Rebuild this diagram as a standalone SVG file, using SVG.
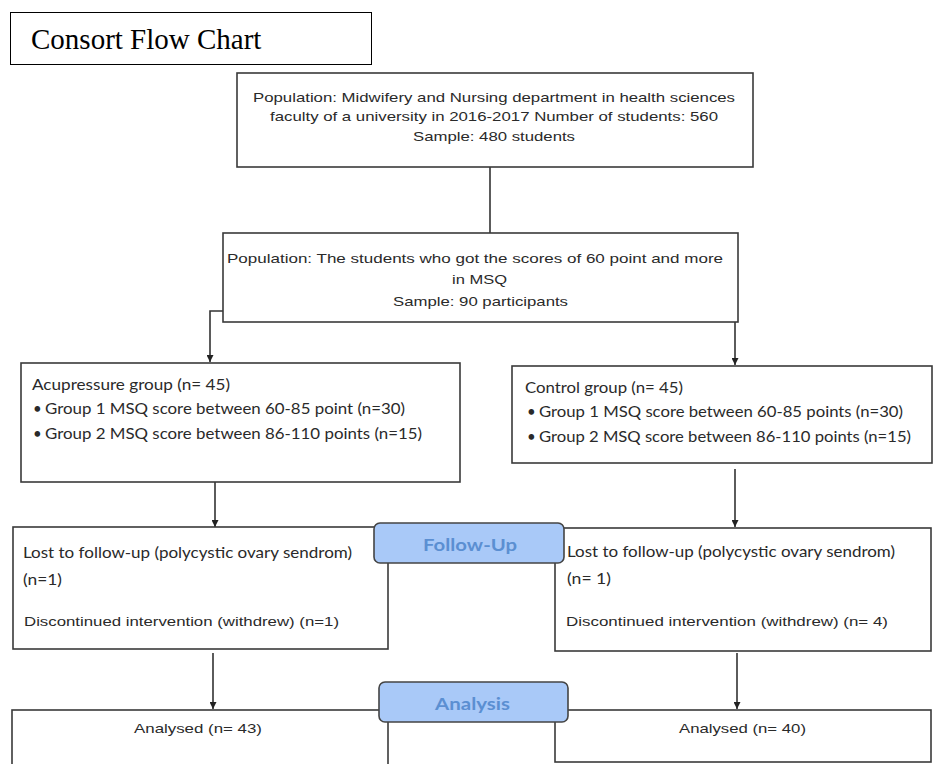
<svg xmlns="http://www.w3.org/2000/svg" width="935" height="764" viewBox="0 0 935 764">
<style>
.box{fill:#fff;stroke:#3a3a3a;stroke-width:1.6}
.lbl{fill:#a9c9f8;stroke:#444;stroke-width:1.6}
.ar{font-family:"Liberation Sans",Arial,sans-serif;font-size:13px;fill:#2a2a2a}
.cb{font-family:Lato,"Open Sans",sans-serif;font-size:15px;fill:#2a2a2a}
.lt{font-family:Lato,"Open Sans",sans-serif;font-size:17px;font-weight:bold;fill:#5b8fd2}
.con{fill:none;stroke:#333;stroke-width:1.6}
</style>
<defs>
<marker id="ah" markerUnits="userSpaceOnUse" markerWidth="8" markerHeight="7" refX="7" refY="3.5" orient="auto">
<path d="M0,0 L7,3.5 L0,7 z" fill="#222"/>
</marker>
</defs>
<rect width="935" height="764" fill="#fff"/>
<g id="title">
<rect x="10.5" y="12.5" width="361" height="52" fill="#fff" stroke="#000" stroke-width="1"/>
<text x="31" y="49" font-family="'Liberation Serif','Times New Roman',serif" font-size="29" fill="#000">Consort Flow Chart</text>
</g>
<g id="connectors">
<path class="con" d="M490,167 V233"/>
<path class="con" d="M223,311 H210 V362" marker-end="url(#ah)"/>
<path class="con" d="M735,322 V365" marker-end="url(#ah)"/>
<path class="con" d="M215,482 V527" marker-end="url(#ah)"/>
<path class="con" d="M735,469 V527" marker-end="url(#ah)"/>
<path class="con" d="M213,653 V709" marker-end="url(#ah)"/>
<path class="con" d="M737,653 V709" marker-end="url(#ah)"/>
</g>
<g id="population">
<rect class="box" x="237" y="73" width="516" height="94"/>
<text class="ar" x="253" y="102" textLength="482" lengthAdjust="spacingAndGlyphs">Population: Midwifery and Nursing department in health sciences</text>
<text class="ar" x="270" y="121" textLength="448" lengthAdjust="spacingAndGlyphs">faculty of a university in 2016-2017 Number of students: 560</text>
<text class="ar" x="413" y="141" textLength="162" lengthAdjust="spacingAndGlyphs">Sample: 480 students</text>
</g>
<g id="msq">
<rect class="box" x="223" y="233" width="515" height="89"/>
<text class="ar" x="227" y="263" textLength="496" lengthAdjust="spacingAndGlyphs">Population: The students who got the scores of 60 point and more</text>
<text class="ar" x="452" y="284" textLength="55" lengthAdjust="spacingAndGlyphs">in MSQ</text>
<text class="ar" x="393" y="306" textLength="175" lengthAdjust="spacingAndGlyphs">Sample: 90 participants</text>
</g>
<g id="acupressure">
<rect class="box" x="21" y="363" width="439" height="119"/>
<text class="cb" x="32" y="390" textLength="198" lengthAdjust="spacingAndGlyphs">Acupressure group (n= 45)</text>
<text class="cb" x="33" y="414">•</text>
<text class="cb" x="45" y="414" textLength="360" lengthAdjust="spacingAndGlyphs">Group 1 MSQ score between 60-85 point (n=30)</text>
<text class="cb" x="33" y="439">•</text>
<text class="cb" x="45" y="439" textLength="377" lengthAdjust="spacingAndGlyphs">Group 2 MSQ score between 86-110 points (n=15)</text>
</g>
<g id="control">
<rect class="box" x="512" y="366" width="420" height="97"/>
<text class="cb" x="525" y="393" textLength="158" lengthAdjust="spacingAndGlyphs">Control group (n= 45)</text>
<text class="cb" x="527" y="417">•</text>
<text class="cb" x="539" y="417" textLength="364" lengthAdjust="spacingAndGlyphs">Group 1 MSQ score between 60-85 points (n=30)</text>
<text class="cb" x="527" y="442">•</text>
<text class="cb" x="539" y="442" textLength="372" lengthAdjust="spacingAndGlyphs">Group 2 MSQ score between 86-110 points (n=15)</text>
</g>
<g id="lost-left">
<rect class="box" x="13" y="527" width="375" height="122"/>
<text class="cb" x="23" y="558" textLength="329" lengthAdjust="spacingAndGlyphs">Lost to follow-up (polycystic ovary sendrom)</text>
<text class="cb" x="23" y="585" textLength="39" lengthAdjust="spacingAndGlyphs">(n=1)</text>
<text class="ar" x="24" y="626" textLength="315" lengthAdjust="spacingAndGlyphs">Discontinued intervention (withdrew) (n=1)</text>
</g>
<g id="lost-right">
<rect class="box" x="555" y="528" width="376" height="123"/>
<text class="cb" x="567" y="557" textLength="328" lengthAdjust="spacingAndGlyphs">Lost to follow-up (polycystic ovary sendrom)</text>
<text class="cb" x="567" y="584" textLength="44" lengthAdjust="spacingAndGlyphs">(n= 1)</text>
<text class="ar" x="566" y="626" textLength="322" lengthAdjust="spacingAndGlyphs">Discontinued intervention (withdrew) (n= 4)</text>
</g>
<g id="analysed-left">
<rect class="box" x="12" y="710" width="376" height="70"/>
<text class="ar" x="134" y="733" textLength="128" lengthAdjust="spacingAndGlyphs">Analysed (n= 43)</text>
</g>
<g id="analysed-right">
<rect class="box" x="555" y="710" width="376" height="52"/>
<text class="ar" x="679" y="733" textLength="127" lengthAdjust="spacingAndGlyphs">Analysed (n= 40)</text>
</g>
<g id="follow-up">
<rect class="lbl" x="374" y="523" width="190" height="40" rx="6"/>
<text class="lt" x="423" y="551" textLength="94" lengthAdjust="spacingAndGlyphs">Follow-Up</text>
</g>
<g id="analysis">
<rect class="lbl" x="379" y="682" width="189" height="40" rx="6"/>
<text class="lt" x="435" y="710" textLength="75" lengthAdjust="spacingAndGlyphs">Analysis</text>
</g>
</svg>
